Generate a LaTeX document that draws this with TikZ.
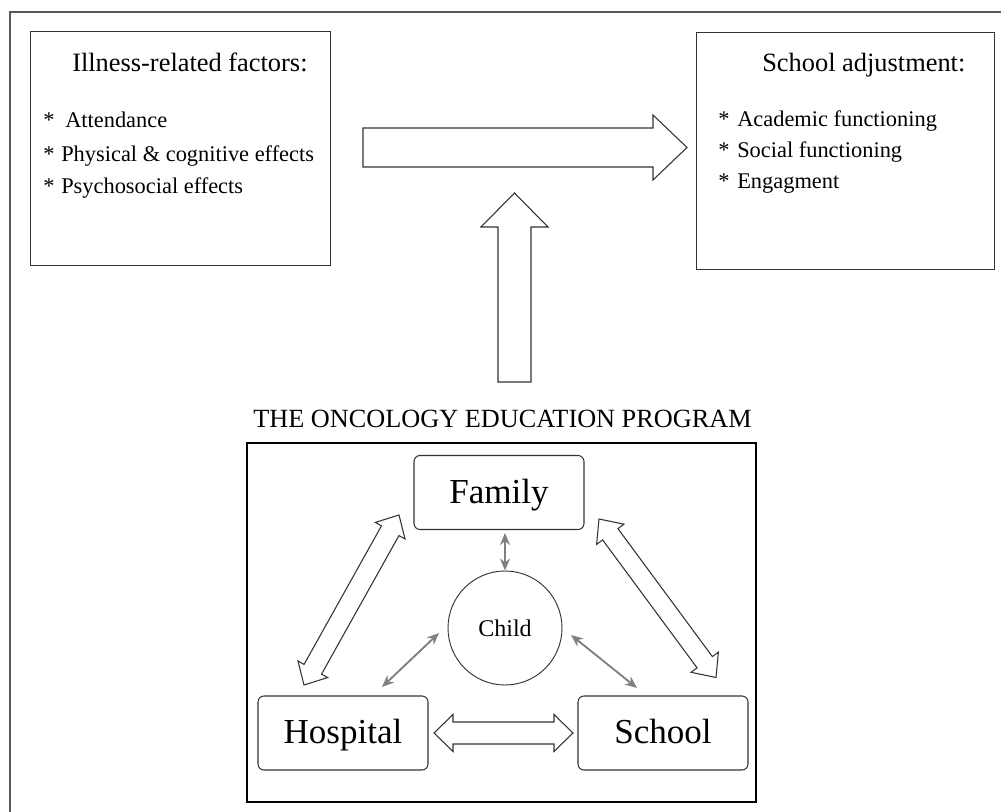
\documentclass[tikz,border=0pt]{standalone}
\usepackage{fontspec}
\setmainfont{Liberation Serif}
\usetikzlibrary{calc,arrows.meta}

\newcommand\bkgeom[2]{%
  \path let \p1=($(#2)-(#1)$) in \pgfextra{%
    \pgfmathparse{atan2(\y1,\x1)}\xdef\bkang{\pgfmathresult}%
    \pgfmathparse{veclen(\x1,\y1)}\xdef\bklen{\pgfmathresult}};}
% single block arrow: tail, tip, shaft half, head half, head length (px)
\newcommand\sblock[5]{%
  \bkgeom{#1}{#2}%
  \begin{scope}[shift={(#1)},rotate=\bkang]
    \draw[blockline] (0pt,{#3*0.75pt}) -- ({\bklen pt-#5*0.75pt},{#3*0.75pt})
      -- ({\bklen pt-#5*0.75pt},{#4*0.75pt}) -- ({\bklen pt},0pt)
      -- ({\bklen pt-#5*0.75pt},{-#4*0.75pt}) -- ({\bklen pt-#5*0.75pt},{-#3*0.75pt})
      -- (0pt,{-#3*0.75pt}) -- cycle;
  \end{scope}}
% double block arrow
\newcommand\dblock[5]{%
  \bkgeom{#1}{#2}%
  \begin{scope}[shift={(#1)},rotate=\bkang]
    \draw[blockline] (0pt,0pt) -- ({#5*0.75pt},{#4*0.75pt}) -- ({#5*0.75pt},{#3*0.75pt})
      -- ({\bklen pt-#5*0.75pt},{#3*0.75pt})
      -- ({\bklen pt-#5*0.75pt},{#4*0.75pt}) -- ({\bklen pt},0pt)
      -- ({\bklen pt-#5*0.75pt},{-#4*0.75pt}) -- ({\bklen pt-#5*0.75pt},{-#3*0.75pt})
      -- ({#5*0.75pt},{-#3*0.75pt}) -- ({#5*0.75pt},{-#4*0.75pt}) -- cycle;
  \end{scope}}

\begin{document}
\begin{tikzpicture}[x=0.75pt,y=-0.75pt,
  blockline/.style={draw=black!80, line width=0.8pt, line join=miter},
  bigbox/.style={draw=black!80, line width=0.8pt, inner sep=0pt},
  rbox/.style={draw=black!80, line width=0.8pt, rounded corners=4.5pt, inner sep=0pt,
     minimum width=127.5pt, minimum height=55.5pt, text height=20pt, text depth=4.2pt,
     font=\fontsize{26.3}{30}\selectfont},
  txt/.style={inner sep=0pt, anchor=base west},
  headfont/.style={font=\fontsize{19.8}{22}\selectfont},
  itemfont/.style={font=\fontsize{16.8}{19}\selectfont},
  thinarrow/.style={draw=black!50, line width=1.4pt, {Stealth[length=9pt,width=7.5pt]}-{Stealth[length=9pt,width=7.5pt]}}
]
\useasboundingbox (0,0) rectangle (1001,812);
% outer frame (cut at right and bottom)
\draw[black!65, line width=1.4pt] (10,812) -- (10,12) -- (1001,12);

% top boxes
\node[bigbox, anchor=north west, minimum width=225pt, minimum height=175.5pt] (ill) at (30,31) {};
\node[bigbox, anchor=north west, minimum width=223.5pt, minimum height=177.75pt] (adj) at (696,32) {};

\node[txt, headfont] (illh) at (72,72) {Illness-related factors:};
\node[txt, itemfont] (s1) at (43,128) {*};
\node[txt, itemfont] (i1) at (65,128) {Attendance};
\node[txt, itemfont] (s2) at (43,162) {*};
\node[txt, itemfont] (i2) at (61,162) {Physical \& cognitive effects};
\node[txt, itemfont] (s3) at (43,194) {*};
\node[txt, itemfont] (i3) at (61,194) {Psychosocial effects};

\node[txt, headfont] (adjh) at (762,72) {School adjustment:};
\node[txt, itemfont] (t1) at (718,127) {*};
\node[txt, itemfont] (j1) at (737,127) {Academic functioning};
\node[txt, itemfont] (t2) at (718,158) {*};
\node[txt, itemfont] (j2) at (737,158) {Social functioning};
\node[txt, itemfont] (t3) at (718,189) {*};
\node[txt, itemfont] (j3) at (737,189) {Engagment};

% main block arrows
\coordinate (hA) at (363,147.5);
\coordinate (hB) at (687,147.5);
\sblock{hA}{hB}{19.5}{32.5}{34}
\coordinate (vA) at (514.5,382);
\coordinate (vB) at (514.5,193);
\sblock{vA}{vB}{16.5}{33.5}{34}

% program
\node[inner sep=0pt, anchor=base, font=\fontsize{19.7}{22}\selectfont] (prog) at (502.5,428) {THE ONCOLOGY EDUCATION PROGRAM};
\draw[black, line width=2pt] (247,443) rectangle (756,802);

\node[rbox] (fam) at (499,492.5) {Family};
\node[rbox] (hosp) at (343,733) {Hospital};
\node[rbox] (sch) at (663,733) {School};
\node[circle, draw=black!80, line width=0.7pt, minimum size=85.5pt, inner sep=0pt,
      font=\fontsize{18}{20}\selectfont] (child) at (505,628) {Child};

% block double arrows
\coordinate (fh1) at (399,515);
\coordinate (fh2) at (304,685);
\dblock{fh1}{fh2}{10}{17}{18}
\coordinate (fs1) at (599,519);
\coordinate (fs2) at (716,677.5);
\dblock{fs1}{fs2}{9.5}{17}{19}
\coordinate (hs1) at (434,733);
\coordinate (hs2) at (573,733);
\dblock{hs1}{hs2}{11}{18.5}{19}

% thin grey arrows
\draw[thinarrow] ($(child.north |- fam.south)+(0,3)$) -- (child.north);
\coordinate (hc1) at (382,687);
\coordinate (hc2) at (439,633);
\draw[thinarrow] (hc1) -- (hc2);
\coordinate (sc1) at (571,635);
\coordinate (sc2) at (637,688);
\draw[thinarrow] (sc1) -- (sc2);
\end{tikzpicture}
\end{document}
